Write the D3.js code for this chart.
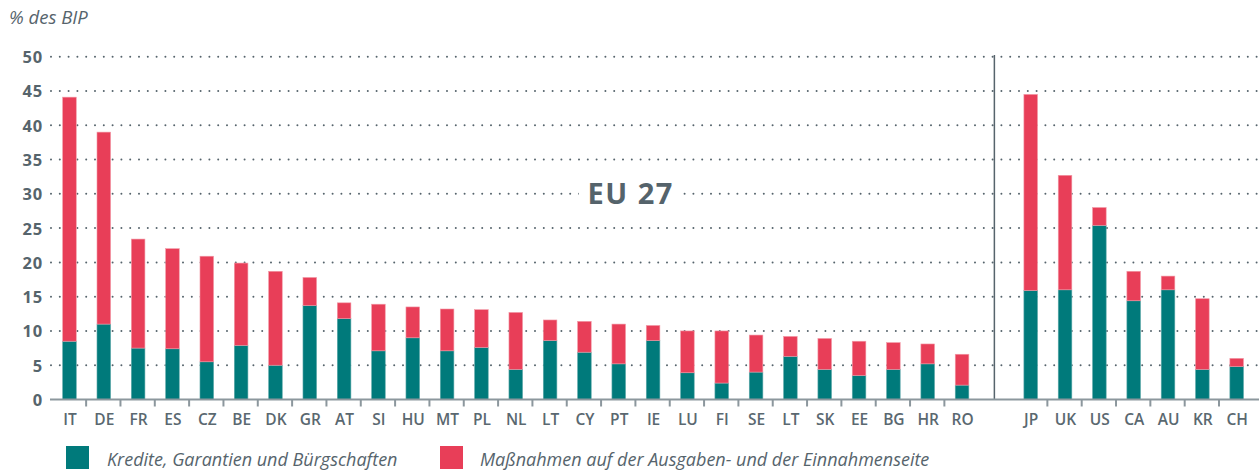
<!DOCTYPE html>
<html>
<head>
<meta charset="utf-8">
<script src="https://cdn.jsdelivr.net/npm/d3@7"></script>
<style>
  body { margin: 0; background: #fff; }
  svg { display: block; }
  svg text { font-family: "Open Sans", "Noto Sans", sans-serif; }
  .ytick text { font-weight: 700; font-size: 16.5px; fill: #56646c; letter-spacing: 0.8px; }
  .xlab text { font-weight: 600; font-size: 15.5px; fill: #5a6870; }
  .legend-text { font-style: italic; font-size: 18px; fill: #56646c; }
</style>
</head>
<body>
<svg id="chart" width="1259" height="471"></svg>
<script>
// Countries (EU 27 first, then the others after a gap)
var euCountries = ["IT","DE","FR","ES","CZ","BE","DK","GR","AT","SI","HU","MT","PL","NL","LT","CY","PT","IE","LU","FI","SE","LT","SK","EE","BG","HR","RO"];
var otherCountries = ["JP","UK","US","CA","AU","KR","CH"];

// Kredite, Garantien und Bürgschaften (% des BIP)
var euCredit = [8.5, 11.0, 7.5, 7.4, 5.5, 7.9, 5.0, 13.7, 11.8, 7.1, 9.0, 7.1, 7.6, 4.4, 8.6, 6.9, 5.2, 8.6, 3.9, 2.4, 4.0, 6.3, 4.4, 3.5, 4.4, 5.2, 2.1];
var otherCredit = [15.9, 16.0, 25.4, 14.4, 16.0, 4.4, 4.8];

// Gesamt (Kredite + Maßnahmen auf der Ausgaben- und Einnahmenseite)
var euTotal = [44.1, 39.0, 23.4, 22.0, 20.9, 19.9, 18.7, 17.8, 14.1, 13.9, 13.5, 13.2, 13.1, 12.7, 11.6, 11.4, 11.0, 10.8, 10.0, 10.0, 9.4, 9.2, 8.9, 8.5, 8.3, 8.1, 6.6];
var otherTotal = [44.5, 32.7, 28.0, 18.7, 18.0, 14.7, 6.0];

var yTicks = [0, 5, 10, 15, 20, 25, 30, 35, 40, 45, 50];
var seriesNames = ["Kredite, Garantien und Bürgschaften", "Maßnahmen auf der Ausgaben- und der Einnahmenseite"];
var colors = ["#007a7b", "#e83e58"];

// build slot list: EU bars, one empty slot, other bars
var rows = [];
euCountries.forEach(function(c, i) {
	rows.push({slot: i, label: c, credit: euCredit[i], total: euTotal[i]});
});
var gapSlot = euCountries.length;
otherCountries.forEach(function(c, i) {
	rows.push({slot: gapSlot + 1 + i, label: c, credit: otherCredit[i], total: otherTotal[i]});
});
var nSlots = gapSlot + 1 + otherCountries.length;

var svg = d3.select("#chart");

var x = d3.scaleLinear()
	.domain([-0.5, nSlots - 0.5])
	.range([52.3, 52.3 + nSlots * 34.33]);
var barWidth = 13.6;

var y = d3.scaleLinear()
	.domain([0, 50])
	.range([399.5, 56.7]);

// y axis labels + dotted grid
var yAxis = d3.axisLeft(y).tickValues(yTicks).tickSize(0).tickPadding(0);
var yg = svg.append("g")
	.attr("class", "ytick")
	.attr("transform", "translate(43,0)")
	.call(yAxis)
	.attr("font-family", null).attr("font-size", null);
yg.select(".domain").remove();
yg.selectAll("text").attr("dy", "0.36em");

svg.append("g").selectAll("line")
	.data(yTicks.filter(function(d) { return d > 0; }))
	.join("line")
	.attr("x1", 51).attr("x2", 1259)
	.attr("y1", function(d) { return y(d); })
	.attr("y2", function(d) { return y(d); })
	.attr("stroke", "#56646c")
	.attr("stroke-width", 2)
	.attr("stroke-linecap", "round")
	.attr("stroke-dasharray", "0 8.8");

// EU 27 label with white backing
var euX = x(16.35);
svg.append("rect")
	.attr("x", euX - 52).attr("y", y(30) - 8)
	.attr("width", 104).attr("height", 16)
	.attr("fill", "#fff");
svg.append("text")
	.attr("x", euX).attr("y", 203.5)
	.attr("text-anchor", "middle")
	.style("font-size", "29px").style("font-weight", 700)
	.style("letter-spacing", "1.5px")
	.attr("fill", "#55636b")
	.text("EU 27");

// separator between EU and the rest
svg.append("line")
	.attr("x1", x(gapSlot) - 2).attr("x2", x(gapSlot) - 2)
	.attr("y1", 55).attr("y2", y(0))
	.attr("stroke", "#56646c").attr("stroke-width", 1.5);

// bars
var bars = svg.append("g");
bars.selectAll("rect.credit")
	.data(rows)
	.join("rect")
	.attr("class", "credit")
	.attr("x", function(d) { return x(d.slot) - barWidth / 2; })
	.attr("width", barWidth)
	.attr("y", function(d) { return y(d.credit); })
	.attr("height", function(d) { return y(0) - y(d.credit); })
	.attr("fill", colors[0])
	.attr("stroke", "#5fa9aa").attr("stroke-width", 0.6);

bars.selectAll("rect.spend")
	.data(rows)
	.join("rect")
	.attr("class", "spend")
	.attr("x", function(d) { return x(d.slot) - barWidth / 2; })
	.attr("width", barWidth)
	.attr("y", function(d) { return y(d.total); })
	.attr("height", function(d) { return y(d.credit) - y(d.total); })
	.attr("fill", colors[1])
	.attr("stroke", "#f29aa7").attr("stroke-width", 0.6);

// x axis: baseline, ticks between bars, labels under bars
var boundaries = [];
for (var i = 0; i < nSlots - 1; i++) {
	if (i === gapSlot - 1 || i === gapSlot) continue;
	boundaries.push(i + 0.5);
}
var xTickAxis = d3.axisBottom(x).tickValues(boundaries).tickFormat("").tickSize(7);
var xt = svg.append("g")
	.attr("transform", "translate(-1," + y(0) + ")")
	.call(xTickAxis);
xt.select(".domain").remove();
xt.selectAll("line").attr("stroke", "#8c979d").attr("stroke-width", 2);

svg.append("line")
	.attr("x1", 50).attr("x2", 1259)
	.attr("y1", y(0)).attr("y2", y(0))
	.attr("stroke", "#8c979d").attr("stroke-width", 2.2);

var labelOf = {};
rows.forEach(function(d) { labelOf[d.slot] = d.label; });
var xLabelAxis = d3.axisBottom(x)
	.tickValues(rows.map(function(d) { return d.slot; }))
	.tickFormat(function(s) { return labelOf[s]; })
	.tickSize(0).tickPadding(0);
var xl = svg.append("g")
	.attr("class", "xlab")
	.attr("transform", "translate(0,425)")
	.call(xLabelAxis)
	.attr("font-family", null).attr("font-size", null);
xl.select(".domain").remove();
xl.selectAll("text").attr("dy", 0);

// unit label
svg.append("text")
	.attr("x", 9).attr("y", 24)
	.style("font-style", "italic").style("font-size", "18.5px")
	.attr("fill", "#56646c")
	.text("% des BIP");

// legend
var legendX = [66, 440];
var legend = svg.append("g").selectAll("g")
	.data(seriesNames)
	.join("g")
	.attr("transform", function(d, i) { return "translate(" + legendX[i] + ",446)"; });
legend.append("rect")
	.attr("width", 23).attr("height", 23)
	.attr("fill", function(d, i) { return colors[i]; });
legend.append("text")
	.attr("class", "legend-text")
	.attr("x", function(d, i) { return i === 0 ? 41 : 40; })
	.attr("y", 19.5)
	.text(function(d) { return d; });
</script>
</body>
</html>
